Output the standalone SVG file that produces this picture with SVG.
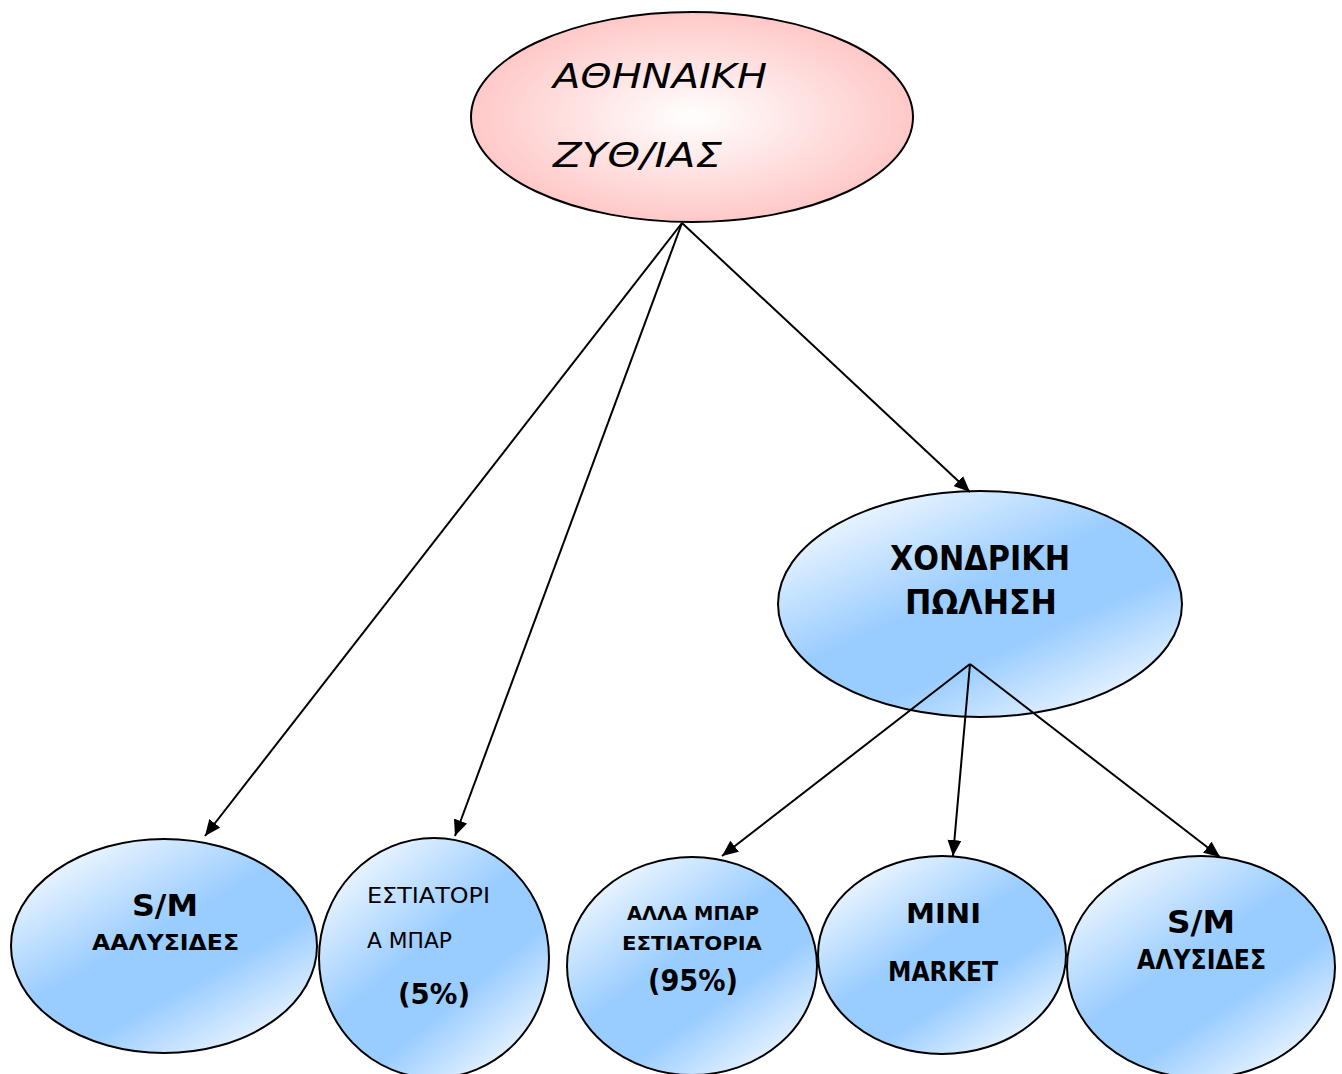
<svg xmlns="http://www.w3.org/2000/svg" width="1342" height="1074" viewBox="0 0 1342 1074">
<defs>
<radialGradient id="pink" cx="0.5" cy="0.5" r="0.5">
<stop offset="0" stop-color="#ffffff"/>
<stop offset="1" stop-color="#ffc8c8"/>
</radialGradient>
<linearGradient id="blue" x1="0.1" y1="0" x2="0.9" y2="1">
<stop offset="0" stop-color="#ffffff"/>
<stop offset="0.45" stop-color="#99ccff"/>
<stop offset="0.65" stop-color="#99ccff"/>
<stop offset="1" stop-color="#ffffff"/>
</linearGradient>
<marker id="arr" markerUnits="userSpaceOnUse" markerWidth="18" markerHeight="14" refX="16" refY="7" orient="auto">
<path d="M0,0 L16,7 L0,14 Z" fill="#000"/>
</marker>
<style>
.n{stroke:#000;stroke-width:2}
.b{fill:url(#blue)}
.t{font-family:"DejaVu Sans","Liberation Sans",sans-serif;fill:#000}
.bd{font-weight:bold}
.c line{stroke:#000;stroke-width:2;marker-end:url(#arr)}
</style>
</defs>
<g id="athinaiki">
<ellipse class="n" cx="692" cy="117" rx="221" ry="105" fill="url(#pink)"/>
<text class="t" x="553" y="88" font-size="34" font-style="italic" textLength="214" lengthAdjust="spacingAndGlyphs">ΑΘΗΝΑΙΚΗ</text>
<text class="t" x="553" y="167" font-size="34" font-style="italic" textLength="169" lengthAdjust="spacingAndGlyphs">ΖΥΘ/ΙΑΣ</text>
</g>
<g id="xondriki">
<ellipse class="n b" cx="980" cy="604" rx="202" ry="113"/>
<text class="t bd" x="890" y="570" font-size="34" textLength="180" lengthAdjust="spacingAndGlyphs">ΧΟΝΔΡΙΚΗ</text>
<text class="t bd" x="905" y="614" font-size="34" textLength="152" lengthAdjust="spacingAndGlyphs">ΠΩΛΗΣΗ</text>
</g>
<g id="sm1">
<ellipse class="n b" cx="164" cy="946" rx="153" ry="107"/>
<text class="t bd" x="132" y="916" font-size="30" textLength="66" lengthAdjust="spacingAndGlyphs">S/M</text>
<text class="t bd" x="92" y="950" font-size="22" textLength="147" lengthAdjust="spacingAndGlyphs">ΑΑΛΥΣΙΔΕΣ</text>
</g>
<g id="estiatoria">
<ellipse class="n b" cx="434" cy="958" rx="115" ry="120"/>
<text class="t" x="367" y="903" font-size="21" textLength="123" lengthAdjust="spacingAndGlyphs">ΕΣΤΙΑΤΟΡΙ</text>
<text class="t" x="367" y="948" font-size="21" textLength="85" lengthAdjust="spacingAndGlyphs">Α ΜΠΑΡ</text>
<text class="t bd" x="398" y="1004" font-size="29" textLength="72" lengthAdjust="spacingAndGlyphs">(5%)</text>
</g>
<g id="alla">
<ellipse class="n b" cx="692" cy="966" rx="125" ry="109"/>
<text class="t bd" x="627" y="920" font-size="20" textLength="132" lengthAdjust="spacingAndGlyphs">ΑΛΛΑ ΜΠΑΡ</text>
<text class="t bd" x="622" y="950" font-size="20" textLength="140" lengthAdjust="spacingAndGlyphs">ΕΣΤΙΑΤΟΡΙΑ</text>
<text class="t bd" x="648" y="991" font-size="30" textLength="90" lengthAdjust="spacingAndGlyphs">(95%)</text>
</g>
<g id="minimarket">
<ellipse class="n b" cx="942" cy="955" rx="124" ry="99"/>
<text class="t bd" x="906" y="923" font-size="27" textLength="75" lengthAdjust="spacingAndGlyphs">MINI</text>
<text class="t bd" x="888" y="981" font-size="27" textLength="110" lengthAdjust="spacingAndGlyphs">MARKET</text>
</g>
<g id="sm2">
<ellipse class="n b" cx="1201" cy="967" rx="134" ry="111"/>
<text class="t bd" x="1167" y="933" font-size="32" textLength="68" lengthAdjust="spacingAndGlyphs">S/M</text>
<text class="t bd" x="1137" y="969" font-size="26" textLength="129" lengthAdjust="spacingAndGlyphs">ΑΛΥΣΙΔΕΣ</text>
</g>
<g id="connectors" class="c">
<line x1="682" y1="223" x2="205" y2="836"/>
<line x1="682" y1="223" x2="455" y2="836"/>
<line x1="682" y1="223" x2="970" y2="492"/>
<line x1="970" y1="664" x2="722" y2="856"/>
<line x1="970" y1="664" x2="953" y2="856"/>
<line x1="970" y1="664" x2="1220" y2="857"/>
</g>
</svg>
